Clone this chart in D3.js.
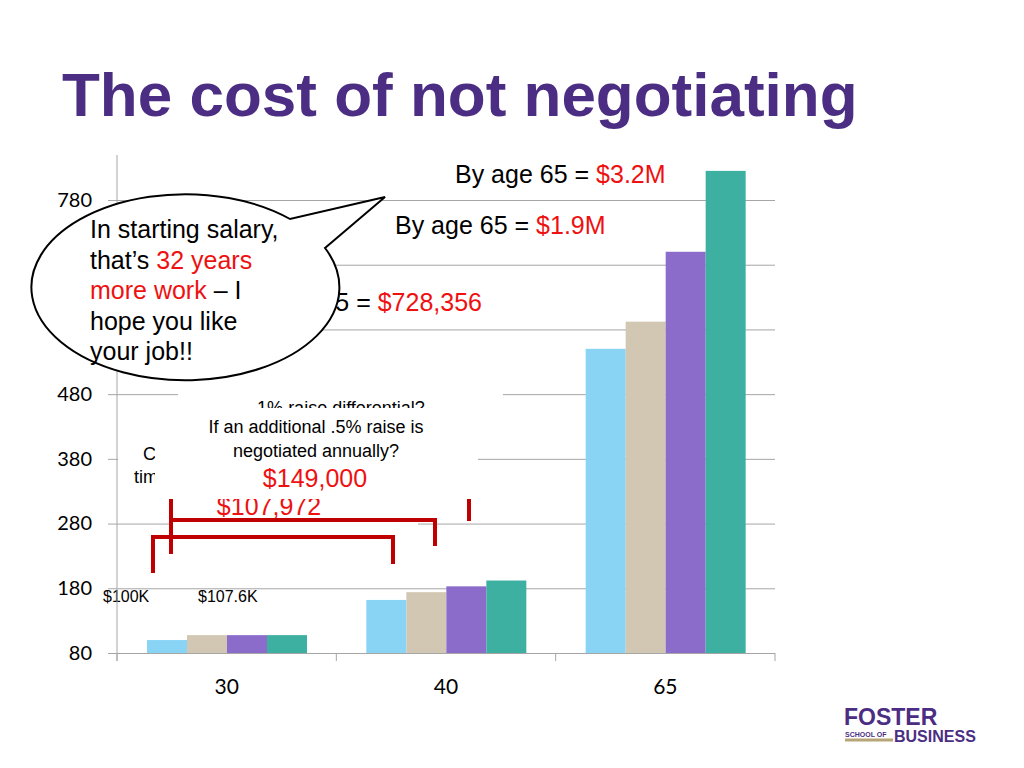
<!DOCTYPE html>
<html>
<head>
<meta charset="utf-8">
<script src="https://cdn.jsdelivr.net/npm/d3@7"></script>
<style>
  body { margin: 0; background: #fff; }
  svg { display: block; }
</style>
</head>
<body>
<svg width="1024" height="768"></svg>
<script>
// ages on the x axis
const categories = ['30', '40', '65'];
// cumulative earnings ($K) per scenario
const seriesNames = ['No negotiation', 'Negotiated start', '+.5% raise', '+1% raise'];
const baseline = [100, 162, 550];
const negotiated = [107.6, 174, 592];
const halfRaise = [107.6, 183, 700];
const fullRaise = [107.6, 192, 825];
const seriesColors = ['#89d3f5', '#d2c7b2', '#8b6ccb', '#3eb0a2'];
const yTicks = [80, 180, 280, 380, 480, 580, 680, 780];

const allSeries = [baseline, negotiated, halfRaise, fullRaise];

const svg = d3.select('svg');
const left = 117, right = 775, bottom = 653;

const y = d3.scaleLinear().domain([80, 780]).range([bottom, 200]);
const x0 = d3.scaleBand().domain(categories).range([left, right]);
const x1 = d3.scaleBand().domain(seriesNames).range([30, 190]);

// gridlines + tick labels
const yAxis = svg.append('g')
  .attr('transform', `translate(${right},0)`)
  .call(d3.axisLeft(y).tickValues(yTicks).tickSize(right - 108).tickPadding(16));
yAxis.select('.domain').remove();
yAxis.selectAll('line').attr('stroke', '#a6a6a6');
yAxis.selectAll('text')
  .attr('font-family', 'Lato, sans-serif')
  .attr('font-size', 20)
  .attr('fill', '#000');

// category ticks
svg.append('g').selectAll('line')
  .data([...categories.map((c) => x0(c)), right])
  .enter().append('line')
  .attr('x1', (d) => d).attr('x2', (d) => d)
  .attr('y1', bottom).attr('y2', bottom + 8)
  .attr('stroke', '#a6a6a6');

svg.append('g').selectAll('text')
  .data(categories)
  .enter().append('text')
  .attr('x', (d) => x0(d) + x0.bandwidth() / 2)
  .attr('y', 694)
  .attr('text-anchor', 'middle')
  .attr('font-family', 'Lato, sans-serif')
  .attr('font-size', 21)
  .text((d) => d);

// bars
const groups = svg.append('g').selectAll('g')
  .data(categories)
  .enter().append('g')
  .attr('transform', (d) => `translate(${x0(d)},0)`);

groups.selectAll('rect')
  .data((c, ci) => seriesNames.map((s, si) => ({ s, v: allSeries[si][ci], color: seriesColors[si] })))
  .enter().append('rect')
  .attr('x', (d) => x1(d.s))
  .attr('width', x1.bandwidth())
  .attr('y', (d) => y(d.v))
  .attr('height', (d) => bottom - y(d.v))
  .attr('fill', (d) => d.color);

const ann = svg.append('g').attr('font-family', 'Liberation Sans, Arial, sans-serif');
const red = '#ee1111';

function ageLine(xPos, yPos, amount, anchor) {
  const t = ann.append('text').attr('x', xPos).attr('y', yPos)
    .attr('font-size', 25).attr('text-anchor', anchor || 'start');
  t.append('tspan').text('By age 65 = ');
  t.append('tspan').attr('fill', red).text(amount);
}
ageLine(482, 311, '$728,356', 'end');
ageLine(395, 234, '$1.9M');
ageLine(455, 183, '$3.2M');

ann.append('text').attr('x', 103).attr('y', 602).attr('font-size', 16).text('$100K');
ann.append('text').attr('x', 198).attr('y', 602).attr('font-size', 16).text('$107.6K');

// box behind: 1% differential
ann.append('rect').attr('x', 178).attr('y', 386).attr('width', 325).attr('height', 34).attr('fill', '#fff');
ann.append('text').attr('x', 341).attr('y', 414).attr('font-size', 18)
  .attr('text-anchor', 'middle').text('1% raise differential?');

// partially hidden box at left
ann.append('rect').attr('x', 118).attr('y', 436).attr('width', 60).attr('height', 56).attr('fill', '#fff');
ann.append('text').attr('x', 143).attr('y', 460).attr('font-size', 18).text('Cost over');
ann.append('text').attr('x', 134).attr('y', 483).attr('font-size', 18).text('time with a');

// $107,972 box
ann.append('rect').attr('x', 170).attr('y', 496).attr('width', 248).attr('height', 34).attr('fill', '#fff');
ann.append('text').attr('x', 269).attr('y', 515).attr('font-size', 25)
  .attr('text-anchor', 'middle').attr('fill', red).text('$107,972');

// brackets
const bracket = ann.append('g').attr('fill', 'none').attr('stroke', '#c00000').attr('stroke-width', 4);
bracket.append('path').attr('d', 'M153,573V537H393V564');
bracket.append('path').attr('d', 'M171,554V494M171,520H435V546');
bracket.append('path').attr('d', 'M171,494H469V521');

// front box: .5% raise
ann.append('rect').attr('x', 155).attr('y', 408).attr('width', 323).attr('height', 91).attr('fill', '#fff');
ann.append('text').attr('x', 316).attr('y', 433).attr('font-size', 18)
  .attr('text-anchor', 'middle').text('If an additional .5% raise is');
ann.append('text').attr('x', 316).attr('y', 457).attr('font-size', 18)
  .attr('text-anchor', 'middle').text('negotiated annually?');
ann.append('text').attr('x', 315).attr('y', 487).attr('font-size', 25)
  .attr('text-anchor', 'middle').attr('fill', red).text('$149,000');

// y axis line
svg.append('line').attr('x1', left).attr('x2', left).attr('y1', 155).attr('y2', 661)
  .attr('stroke', '#a6a6a6');

// speech bubble
svg.append('path')
  .attr('d', 'M325,248L385,197L290,219A154,93 0 1 0 325,248Z')
  .attr('fill', '#fff').attr('stroke', '#000').attr('stroke-width', 2)
  .attr('stroke-linejoin', 'miter');

const bubble = [
  [['In starting salary,', '#000']],
  [['that\u2019s ', '#000'], ['32 years', red]],
  [['more work', red], [' \u2013 I', '#000']],
  [['hope you like', '#000']],
  [['your job!!', '#000']],
];
const bt = svg.append('g').attr('font-family', 'Liberation Sans, Arial, sans-serif').attr('font-size', 25);
bubble.forEach((line, i) => {
  const t = bt.append('text').attr('x', 90).attr('y', 238 + i * 30.5);
  line.forEach(([s, c]) => t.append('tspan').attr('fill', c).text(s));
});

// title
svg.append('text')
  .attr('x', 62).attr('y', 116)
  .attr('font-family', 'Liberation Sans, Arial, sans-serif')
  .attr('font-weight', 'bold').attr('font-size', 62)
  .attr('fill', '#4b2e83')
  .text('The cost of not negotiating');

// logo
const logo = svg.append('g').attr('font-family', 'Liberation Sans, Arial, sans-serif')
  .attr('font-weight', 'bold').attr('fill', '#4b2e83');
logo.append('text').attr('x', 844).attr('y', 725).attr('font-size', 23).text('FOSTER');
logo.append('text').attr('x', 845).attr('y', 737).attr('font-size', 7).text('SCHOOL OF');
logo.append('rect').attr('x', 845).attr('y', 738.5).attr('width', 48).attr('height', 3).attr('fill', '#b7a57a');
logo.append('text').attr('x', 894).attr('y', 742).attr('font-size', 16).text('BUSINESS');
</script>
</body>
</html>
